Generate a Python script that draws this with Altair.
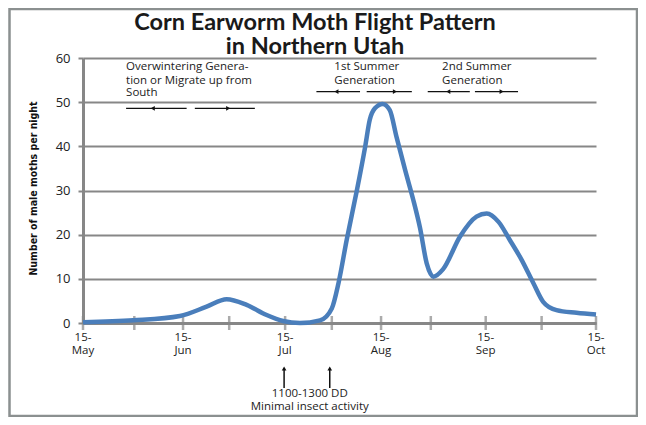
import altair as alt
import pandas as pd

# ---- data ----
title_lines = ["Corn Earworm Moth Flight Pattern\nin Northern Utah"]

# x position in axis units (0 = 15-May, 10 = 15-Oct)
curve_pos = [0.00, 0.98, 1.89, 2.41, 2.80, 3.19, 3.58, 3.90, 4.23, 4.62, 4.85, 4.98,
             5.14, 5.34, 5.50, 5.59, 5.69, 5.84, 5.98, 6.11, 6.28, 6.44, 6.57, 6.70,
             6.83, 7.02, 7.35, 7.67, 7.87, 8.10, 8.32, 8.55, 8.78, 8.97, 9.23, 9.62, 10.0]
curve_moths = [0.15, 0.6, 1.6, 3.7, 5.4, 4.1, 1.8, 0.45, 0.0, 0.6, 3.3, 9.0,
               18.8, 30.1, 39.9, 46.0, 48.6, 49.6, 48.2, 42.2, 34.6, 27.8, 21.5, 13.5,
               10.5, 12.2, 19.6, 24.1, 24.8, 22.9, 18.8, 14.3, 9.0, 4.8, 2.9, 2.3, 1.9]

tick_pos = [0, 1.0, 1.95, 2.85, 3.94, 4.85, 5.81, 6.78, 7.85, 8.94, 10]
label_pos = [0, 1.95, 3.94, 5.81, 7.85, 10]
label_text = ["15-\nMay", "15-\nJun", "15-\nJul", "15-\nAug", "15-\nSep", "15-\nOct"]

y_ticks = [0, 10, 20, 30, 40, 50, 60]

note_text = ["Overwintering Genera-", "tion or Migrate up from", "South",
             "1st Summer", "Generation", "2nd Summer", "Generation"]
note_x = [0.84, 0.84, 0.84, 4.90, 4.90, 7.0, 7.0]
note_y = [57.9, 54.9, 52.0, 58.0, 54.9, 58.0, 54.9]

arrow_x1 = [0.84, 2.18, 4.55, 5.53, 6.72, 7.64]
arrow_x2 = [2.02, 3.35, 5.40, 6.41, 7.54, 8.48]
arrow_y = [48.6, 48.6, 52.4, 52.4, 52.4, 52.4]
head_x = [1.36, 2.83, 4.94, 6.08, 7.12, 8.16]
head_dir = ["left", "right", "left", "right", "left", "right"]

up_x = [3.92, 4.81]
up_y1 = [-14.7, -14.7]
up_y2 = [-10.3, -10.3]

dd_text = ["1100-1300 DD", "Minimal insect activity"]
dd_x = [4.42, 4.42]
dd_y = [-16.1, -18.95]

# ---- tables ----
curve = pd.DataFrame({"pos": curve_pos, "moths": curve_moths})
ticks = pd.DataFrame({"pos": tick_pos})
labels = pd.DataFrame({"pos": label_pos, "label": label_text})
notes = pd.DataFrame({"x": note_x, "y": note_y, "t": note_text})
arrows = pd.DataFrame({"x1": arrow_x1, "x2": arrow_x2, "y": arrow_y,
                       "hx": head_x, "dir": head_dir})
ups = pd.DataFrame({"x": up_x, "y1": up_y1, "y2": up_y2})
dd = pd.DataFrame({"x": dd_x, "y": dd_y, "t": dd_text})
titles = pd.DataFrame({"t": title_lines})

GRAY = "#878787"
BLUE = "#4a7ebb"
FONT = "Open Sans"

xs = alt.Scale(domain=[0, 10], nice=False, zero=False)
ys = alt.Scale(domain=[0, 60], nice=False)

frame = alt.Chart(pd.DataFrame({"a": [0]})).mark_rect(
    fillOpacity=0, stroke="#8b9090", strokeWidth=2.5
).encode(x=alt.value(-73.5), x2=alt.value(554), y=alt.value(-49), y2=alt.value(358))

title = alt.Chart(titles).mark_text(
    font="Lato", fontSize=23.5, fontWeight="bold", color="#1a1a1a",
    lineBreak="\n", lineHeight=24, align="center", baseline="middle"
).encode(x=alt.value(232), y=alt.value(-35.5), text="t:N")

line = alt.Chart(curve).mark_line(
    interpolate="monotone", color=BLUE, strokeWidth=4.5, clip=False
).encode(
    x=alt.X("pos:Q", scale=xs,
            axis=alt.Axis(labels=False, ticks=False, grid=False, domain=True,
                          domainColor=GRAY, domainWidth=3, title=None)),
    y=alt.Y("moths:Q", scale=ys,
            axis=alt.Axis(values=y_ticks, grid=True, gridColor=GRAY, gridWidth=2.2,
                          domainColor=GRAY, domainWidth=3, tickColor=GRAY,
                          tickWidth=2, tickSize=5, labelFont=FONT, labelFontSize=13,
                          labelColor="#222222", labelPadding=8,
                          title="Number of male moths per night",
                          titleFont="Liberation Sans Narrow, DejaVu Sans Condensed, sans-serif",
                          titleFontSize=10.5,
                          titleFontWeight="bold", titleColor="#111111",
                          titleX=-50, titleY=130, titleAngle=-90,
                          titleAlign="center", titleBaseline="middle")),
)

tick_marks = alt.Chart(ticks).mark_tick(
    orient="vertical", size=14, thickness=2.5, color=GRAY
).encode(x=alt.X("pos:Q", scale=xs), y=alt.datum(0, scale=ys))

tick_labels = alt.Chart(labels).mark_text(
    baseline="top", align="center", lineBreak="\n", fontSize=11.5, font=FONT,
    lineHeight=13, color="#222222", dy=9
).encode(x=alt.X("pos:Q", scale=xs), y=alt.datum(0, scale=ys), text="label:N")

note_marks = alt.Chart(notes).mark_text(
    align="left", baseline="middle", fontSize=11.5, font=FONT, color="#222222"
).encode(x=alt.X("x:Q", scale=xs), y=alt.Y("y:Q", scale=ys), text="t:N")

arrow_lines = alt.Chart(arrows).mark_rule(color="#111111", strokeWidth=1.3).encode(
    x=alt.X("x1:Q", scale=xs), x2="x2:Q", y=alt.Y("y:Q", scale=ys))

heads_l = alt.Chart(arrows).transform_filter(alt.datum.dir == "left").mark_point(
    shape="triangle-left", filled=True, size=22, color="#111111", opacity=1
).encode(x=alt.X("hx:Q", scale=xs), y=alt.Y("y:Q", scale=ys))

heads_r = alt.Chart(arrows).transform_filter(alt.datum.dir == "right").mark_point(
    shape="triangle-right", filled=True, size=22, color="#111111", opacity=1
).encode(x=alt.X("hx:Q", scale=xs), y=alt.Y("y:Q", scale=ys))

up_lines = alt.Chart(ups).mark_rule(color="#111111", strokeWidth=1.5).encode(
    x=alt.X("x:Q", scale=xs), y=alt.Y("y1:Q", scale=ys), y2="y2:Q")

up_heads = alt.Chart(ups).mark_point(
    shape="triangle-up", filled=True, size=22, color="#111111", opacity=1
).encode(x=alt.X("x:Q", scale=xs), y=alt.Y("y2:Q", scale=ys))

dd_marks = alt.Chart(dd).mark_text(
    align="center", baseline="middle", fontSize=11.5, font=FONT, color="#222222"
).encode(x=alt.X("x:Q", scale=xs), y=alt.Y("y:Q", scale=ys), text="t:N")

chart = alt.layer(
    frame, title, tick_marks, line, tick_labels, note_marks, arrow_lines, heads_l,
    heads_r, up_lines, up_heads, dd_marks
).properties(
    width=513, height=265,
    padding={"left": 75, "top": 50, "right": 42, "bottom": 94},
    autosize=alt.AutoSizeParams(type="none"),
).configure_view(strokeWidth=0)

chart.save("out.html", embed_options={"renderer": "svg", "actions": False})
